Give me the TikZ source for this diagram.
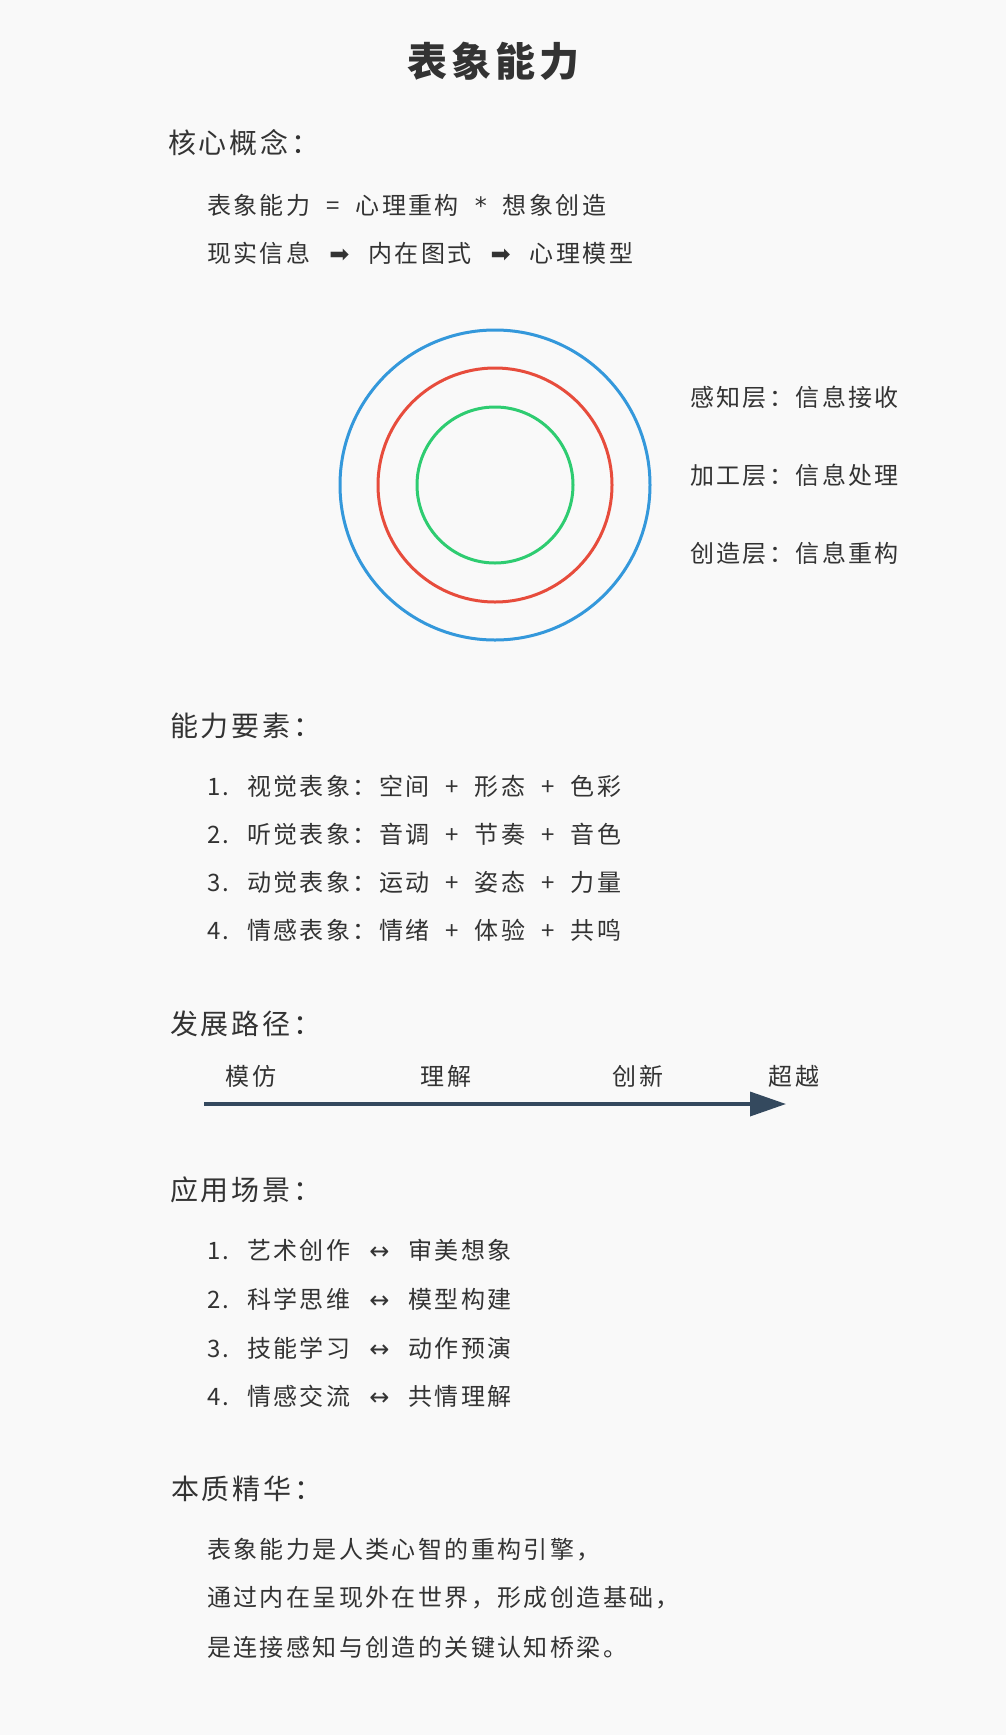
\documentclass[tikz,border=0pt]{standalone}
\usepackage{fontspec}
\setmainfont[LetterSpace=10]{Noto Sans CJK SC}
\newfontfamily\symfont{DejaVu Sans}
\usetikzlibrary{arrows.meta}
\definecolor{pagebg}{HTML}{F9F9F9}
\definecolor{inkgrey}{HTML}{333333}
\definecolor{ringblue}{HTML}{3498DB}
\definecolor{ringred}{HTML}{E74C3C}
\definecolor{ringgreen}{HTML}{2ECC71}
\definecolor{pathslate}{HTML}{34495E}
\def\itemno#1{\makebox[40pt][l]{#1}}
\def\opgap#1{\hspace{16pt}#1\hspace{16pt}}
\def\symgap#1#2{\hspace{#1}{\symfont #2}\hspace{#1}}
\tikzset{
	heading/.style={anchor=west, inner sep=0pt, text=inkgrey, font=\fontsize{28}{34}\selectfont},
	bodytext/.style={anchor=west, inner sep=0pt, text=inkgrey, font=\fontsize{24}{30}\selectfont},
	stagelabel/.style={bodytext, anchor=center},
	ring/.style={line width=3pt},
}

\begin{document}
\begin{tikzpicture}[x=1pt, y=-1pt]
		%%%%% START %%%%%
		
		\fill[pagebg] (0, 0) rectangle (1006, 1735);
		\useasboundingbox (0, 0) rectangle (1006, 1735);
		
		\node[inner sep=0pt, text=inkgrey, font=\fontsize{40}{48}\selectfont\bfseries] (title) at (493, 61) {表象能力};
		
		\node[heading] (concept) at (168, 143) {核心概念：};
		\node[bodytext] (formula) at (207, 205) {表象能力\opgap{=}心理重构\opgap{{\symfont *}}想象创造};
		\node[bodytext] (flow) at (207, 253) {现实信息\symgap{19pt}{➡}内在图式\symgap{19pt}{➡}心理模型};
		
		\coordinate (core) at (495, 485);
		\draw[ring, ringblue] (core) circle[radius=155pt];
		\draw[ring, ringred] (core) circle[radius=117pt];
		\draw[ring, ringgreen] (core) circle[radius=78pt];
		\node[bodytext] (perceive) at (690, 397) {感知层：信息接收};
		\node[bodytext] (process) at (690, 475) {加工层：信息处理};
		\node[bodytext] (create) at (690, 553) {创造层：信息重构};
		
		\node[heading] (elements) at (170, 726) {能力要素：};
		\node[bodytext] (visual) at (207, 786) {\itemno{1.}视觉表象：空间\opgap{+}形态\opgap{+}色彩};
		\node[bodytext] (auditory) at (207, 834) {\itemno{2.}听觉表象：音调\opgap{+}节奏\opgap{+}音色};
		\node[bodytext] (kinetic) at (207, 882) {\itemno{3.}动觉表象：运动\opgap{+}姿态\opgap{+}力量};
		\node[bodytext] (emotive) at (207, 930) {\itemno{4.}情感表象：情绪\opgap{+}体验\opgap{+}共鸣};
		
		\node[heading] (growth) at (170, 1024) {发展路径：};
		\coordinate (pathstart) at (204, 1104);
		\coordinate (pathend) at (786, 1104);
		\draw[line width=3.5pt, pathslate, -{Triangle[length=36pt, width=24pt]}] (pathstart) -- (pathend);
		\node[stagelabel] (imitate) at (251, 1076) {模仿};
		\node[stagelabel] (grasp) at (446, 1076) {理解};
		\node[stagelabel] (innovate) at (638, 1076) {创新};
		\node[stagelabel] (surpass) at (794, 1076) {超越};
		
		\node[heading] (usage) at (170, 1190) {应用场景：};
		\node[bodytext] (art) at (207, 1250) {\itemno{1.}艺术创作\symgap{19pt}{↔}审美想象};
		\node[bodytext] (science) at (207, 1299) {\itemno{2.}科学思维\symgap{19pt}{↔}模型构建};
		\node[bodytext] (skill) at (207, 1348) {\itemno{3.}技能学习\symgap{19pt}{↔}动作预演};
		\node[bodytext] (empathy) at (207, 1396) {\itemno{4.}情感交流\symgap{19pt}{↔}共情理解};
		
		\node[heading] (essence) at (171, 1489) {本质精华：};
		\node[bodytext] (summaryA) at (207, 1550) {表象能力是人类心智的重构引擎，};
		\node[bodytext] (summaryB) at (207, 1598) {通过内在呈现外在世界，形成创造基础，};
		\node[bodytext] (summaryC) at (207, 1647) {是连接感知与创造的关键认知桥梁。};
		
		%%%%% END %%%%%
	\end{tikzpicture}
\end{document}
